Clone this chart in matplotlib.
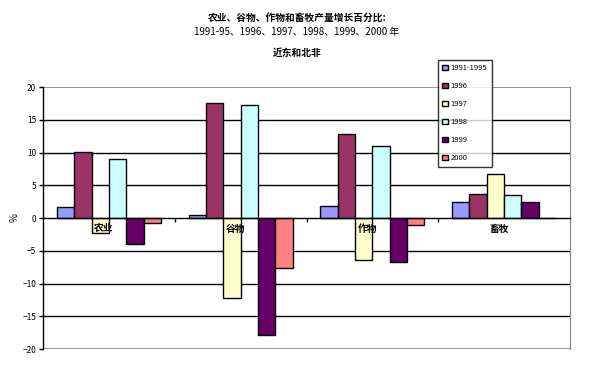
import matplotlib
matplotlib.use('Agg')
import matplotlib.pyplot as plt
import numpy as np

plt.rcParams['font.family'] = ['Noto Sans CJK SC', 'DejaVu Sans']

# Data
categories = ['农业', '谷物', '作物', '畜牧']
series = ['1991-1995', '1996', '1997', '1998', '1999', '2000']
v_1991_95 = [1.7, 0.5, 1.8, 2.4]
v_1996 = [10.1, 17.5, 12.9, 3.6]
v_1997 = [-2.3, -12.2, -6.4, 6.7]
v_1998 = [9.0, 17.2, 11.0, 3.5]
v_1999 = [-3.9, -17.8, -6.7, 2.5]
v_2000 = [-0.7, -7.7, -1.1, 0.0]
yticks = [-20, -15, -10, -5, 0, 5, 10, 15, 20]

values = [v_1991_95, v_1996, v_1997, v_1998, v_1999, v_2000]
colors = ['#9999FF', '#993366', '#FFFFCC', '#CCFFFF', '#660066', '#FF8080']

fig = plt.figure(figsize=(5.94, 3.65), dpi=100)
ax = fig.add_axes([0.0724, 0.0438, 0.8872, 0.7178])

x = np.arange(len(categories))
w = 1 / 7.6
for i, (vals, c, lab) in enumerate(zip(values, colors, series)):
    ax.bar(x + (i - 2.5) * w, vals, w, color=c, edgecolor='black',
           linewidth=1, label=lab, zorder=3)

# gridlines
for t in yticks:
    if t in (-20, 20):
        ax.axhline(t, color='#808080', lw=1.2, zorder=1)
    elif t != 0:
        ax.axhline(t, color='black', lw=1, zorder=1)

ax.set_xlim(-0.5, len(categories) - 0.5)
ax.set_ylim(-20, 20)
ax.set_yticks(yticks)
ax.tick_params(axis='y', labelsize=6, length=3, width=1, pad=2)

ax.spines['bottom'].set_position(('data', 0))
ax.spines['bottom'].set_zorder(4)
ax.spines['top'].set_visible(False)
ax.spines['right'].set_color('#808080')
for s in ('left', 'bottom'):
    ax.spines[s].set_linewidth(1)

ax.set_xticks(x[:-1] + 0.5)
ax.set_xticklabels([])
ax.tick_params(axis='x', which='major', length=3, width=1, direction='out')

# category labels sit just under the zero line, on top of the bars
for xi, cat in zip(x, categories):
    ax.annotate(cat, (xi - 0.04, 0), xytext=(0, -4), textcoords='offset points',
                ha='center', va='top', fontsize=7, fontweight='bold',
                zorder=6)

fig.text(0.025, 0.403, '%', rotation=90, ha='center', va='center',
         fontsize=7)

fig.text(0.5, 0.951, '农业、谷物、作物和畜牧产量增长百分比:', ha='center',
         va='center', fontsize=7, fontweight='bold')
fig.text(0.5, 0.912, '1991-95、1996、1997、1998、1999、2000 年', ha='center',
         va='center', fontsize=7)
fig.text(0.5, 0.855, '近东和北非', ha='center', va='center', fontsize=7,
         fontweight='bold')

leg = fig.legend(loc='upper left', bbox_to_anchor=(0.737, 0.836),
                 fontsize=5.5, frameon=True, fancybox=False,
                 handlelength=0.7, handleheight=0.7, handletextpad=0.4,
                 labelspacing=1.3, borderpad=0.6, borderaxespad=0)
leg.get_frame().set_edgecolor('black')
leg.get_frame().set_linewidth(1)
leg.set_zorder(10)

fig.savefig('out.png', dpi=100)
